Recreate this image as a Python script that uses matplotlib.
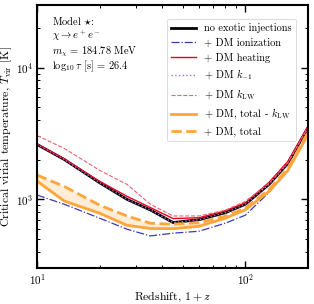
import matplotlib
matplotlib.use("Agg")
import matplotlib.pyplot as plt
import numpy as np

plt.rcParams.update({
    "font.family": "serif",
    "font.serif": ["cmr10", "DejaVu Serif"],
    "mathtext.fontset": "cm",
    "axes.formatter.use_mathtext": True,
    "axes.unicode_minus": False,
})

# 1+z grid
one_plus_z = [10, 13.5, 20, 27, 35, 45, 60, 80, 100, 130, 160, 200]

T_none      = [2610, 2009, 1334, 1000, 830, 666, 700, 790, 917, 1299, 1875, 3512]
T_ion       = [1078, 917, 718, 593, 527, 553, 572, 658, 757, 1130, 1658, 3107]
T_heat      = [2630, 2026, 1369, 1054, 865, 714, 724, 818, 941, 1345, 1940, 3574]
T_km1       = [2610, 2009, 1334, 1000, 830, 666, 700, 790, 917, 1299, 1875, 3512]
T_klw       = [3053, 2434, 1659, 1299, 917, 747, 747, 825, 966, 1322, 1900, 3512]
T_tot_noklw = [1376, 971, 783, 635, 600, 598, 624, 718, 832, 1150, 1658, 3107]
T_tot       = [1528, 1254, 901, 747, 658, 647, 664, 743, 855, 1191, 1717, 3218]

labels = ["no exotic injections", "+ DM ionization", "+ DM heating",
          r"+ DM $k_{-1}$", r"+ DM $k_{\rm LW}$",
          r"+ DM, total - $k_{\rm LW}$", "+ DM, total"]

fig = plt.figure(figsize=(3.14, 3.04), dpi=100)
ax = fig.add_axes([0.118, 0.118, 0.863, 0.866])

orange = "#ffa53a"
ax.fill_between(one_plus_z, T_tot_noklw, T_tot, color=orange, alpha=0.2, lw=0)
ax.plot(one_plus_z, T_none, color="black", lw=2.0, label=labels[0])
ax.plot(one_plus_z, T_ion, color="#3b3bb0", lw=0.9, ls="-.", label=labels[1])
ax.plot(one_plus_z, T_heat, color="#e8001c", lw=1.0, label=labels[2])
ax.plot(one_plus_z, T_km1, color="#b366d9", lw=1.0, ls=":", label=labels[3])
ax.plot(one_plus_z, T_klw, color="#f0606c", lw=0.8, ls="--", label=labels[4])
ax.plot(one_plus_z, T_tot_noklw, color=orange, lw=2.0, label=labels[5])
ax.plot(one_plus_z, T_tot, color=orange, lw=2.0, ls="--", label=labels[6])

ax.set_xscale("log")
ax.set_yscale("log")
ax.set_xlim(10, 200)
ax.set_ylim(300, 30000)

ax.tick_params(which="both", direction="in", top=True, right=True, labelsize=8)
ax.tick_params(which="major", length=5, width=1, pad=3)
ax.tick_params(which="minor", length=2.5, width=0.7)
for s in ax.spines.values():
    s.set_linewidth(1.5)

ax.set_xlabel(r"Redshift, $1+z$", fontsize=8.5, labelpad=2)
ax.set_ylabel(r"Critical virial temperature, $T_{\rm vir}$ [K]", fontsize=8.5, labelpad=1)

txt = [r"Model $\star$:", r"$\chi \to e^+e^-$", r"$m_\chi$ = 184.78 MeV",
       r"$\log_{10}\tau$ [s] = 26.4"]
ys = [0.936, 0.883, 0.822, 0.765]
for t, yy in zip(txt, ys):
    ax.text(0.055, yy, t, transform=ax.transAxes, fontsize=7.5, va="center", ha="left")

leg = ax.legend(loc="upper right", fontsize=7.5, frameon=True, fancybox=True,
                handlelength=2.4, labelspacing=0.48, borderpad=0.4,
                bbox_to_anchor=(0.975, 0.965))
leg.get_frame().set_linewidth(0.6)

fig.savefig("out.png", dpi=100)
